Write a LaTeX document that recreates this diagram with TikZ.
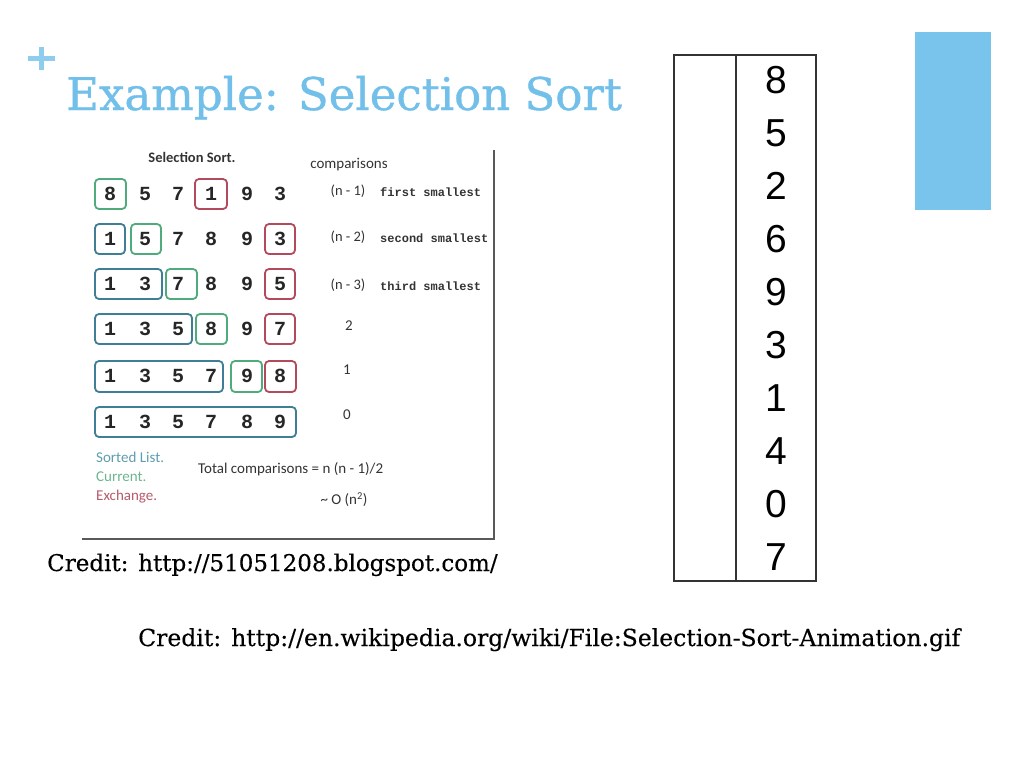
\documentclass[tikz,border=0pt]{standalone}
\usepackage{fontspec}
\newfontfamily\titlefont[FakeBold=0.8]{DejaVu Serif}
\newfontfamily\credfont[FakeBold=0.3]{DejaVu Serif}
\newfontfamily\calfont{Carlito}
\newfontfamily\monofont{Liberation Mono}
\newfontfamily\arialfont{Liberation Sans}
\definecolor{titleblue}{HTML}{72C0EA}
\definecolor{barblue}{HTML}{79C4EC}
\definecolor{plusblue}{HTML}{8ECDEE}
\definecolor{sortblue}{HTML}{3F7E95}
\definecolor{curgreen}{HTML}{4FAA7C}
\definecolor{exred}{HTML}{B24A5C}
\definecolor{legblue}{HTML}{5E9DB0}
\definecolor{leggreen}{HTML}{6DB58F}
\definecolor{legred}{HTML}{B65A6B}
\tikzset{
  bbox/.style={draw=sortblue, line width=1.8pt, rounded corners=4pt},
  gbox/.style={draw=curgreen, line width=1.8pt, rounded corners=4pt},
  rbox/.style={draw=exred, line width=1.8pt, rounded corners=4pt},
  dig/.style={font=\monofont\bfseries\fontsize{20}{21}\selectfont, text=black!85, inner sep=0pt},
  cmp/.style={font=\calfont\fontsize{15}{17}\selectfont, text=black!80, inner sep=0pt},
  mono/.style={font=\monofont\bfseries\fontsize{12}{13}\selectfont, text=black!80, inner sep=0pt, anchor=west},
  big/.style={font=\arialfont\fontsize{39}{40}\selectfont, inner sep=0pt},
  cred/.style={font=\credfont\fontsize{23}{25}\selectfont, anchor=base west, inner sep=0pt},
}
\begin{document}
\begin{tikzpicture}[x=1pt,y=-1pt]
\useasboundingbox (0,0) rectangle (1024,768);
% decorations
\fill[barblue] (915,32) rectangle (991,210);
\fill[plusblue] (28,56) rectangle (55,61);
\fill[plusblue] (39,47) rectangle (44,70);
\node[font=\titlefont\fontsize{45}{50}\selectfont, text=titleblue, anchor=base west, inner sep=0pt] (title) at (66,110) {Example: Selection Sort};
% inner figure frame
\draw[black!65, line width=2.4pt] (494,150) -- (494,539) -- (82,539);
\node[font=\calfont\bfseries\fontsize{14.5}{16}\selectfont, text=black!80, inner sep=0pt] (hd) at (192,157) {Selection Sort.};
\node[cmp] (cmpl) at (349,165) {comparisons};
% boxes
\draw[gbox] (95,179) rectangle (126,209);
\draw[rbox] (195,179) rectangle (227,209);
\draw[bbox] (95,224) rectangle (125,254);
\draw[gbox] (131,224) rectangle (161,254);
\draw[rbox] (265,224) rectangle (295,254);
\draw[bbox] (95,269) rectangle (162,299);
\draw[gbox] (166,269) rectangle (197,299);
\draw[rbox] (265,269) rectangle (295,299);
\draw[bbox] (95,314) rectangle (192,344);
\draw[gbox] (196,314) rectangle (227,344);
\draw[rbox] (265,314) rectangle (295,344);
\draw[bbox] (95,361) rectangle (223,392);
\draw[gbox] (231,361) rectangle (262,392);
\draw[rbox] (265,361) rectangle (296,392);
\draw[bbox] (95,407) rectangle (296,437);
% digits
\foreach \r/\y/\a/\b/\c/\d/\e/\f in {1/194/8/5/7/1/9/3, 2/239/1/5/7/8/9/3, 3/284/1/3/7/8/9/5, 4/329/1/3/5/8/9/7, 5/376/1/3/5/7/9/8, 6/422/1/3/5/7/8/9}{
  \node[dig] (d\r a) at (110,\y) {\a};
  \node[dig] (d\r b) at (145,\y) {\b};
  \node[dig] (d\r c) at (178,\y) {\c};
  \node[dig] (d\r d) at (211,\y) {\d};
  \node[dig] (d\r e) at (247,\y) {\e};
  \node[dig] (d\r f) at (280,\y) {\f};
}
% comparisons column
\node[cmp, font=\calfont\fontsize{14.5}{16}\selectfont] (c1) at (348,191) {(n - 1)};
\node[cmp, font=\calfont\fontsize{14.5}{16}\selectfont] (c2) at (348,237) {(n - 2)};
\node[cmp, font=\calfont\fontsize{14.5}{16}\selectfont] (c3) at (348,285) {(n - 3)};
\node[mono] (m1) at (380,192) {first smallest};
\node[mono] (m2) at (380,238) {second smallest};
\node[mono] (m3) at (380,286) {third smallest};
\node[cmp] (c4) at (349,326) {2};
\node[cmp] (c5) at (347,370) {1};
\node[cmp] (c6) at (347,415) {0};
% legend
\node[cmp, text=legblue, anchor=west] (l1) at (96,457) {Sorted List.};
\node[cmp, text=leggreen, anchor=west] (l2) at (96,477) {Current.};
\node[cmp, text=legred, anchor=west] (l3) at (96,497) {Exchange.};
\node[cmp, anchor=west] (tot) at (198,469) {Total comparisons = n (n - 1)/2};
\node[cmp] (ord) at (344,500) {\textasciitilde{} O (n\textsuperscript{2})};
% credits
\node[cred] (cr1) at (47,571) {Credit: http://51051208.blogspot.com/};
\node[cred, font=\credfont\fontsize{23.5}{25}\selectfont] (cr2) at (138,646) {Credit: http://en.wikipedia.org/wiki/File:Selection-Sort-Animation.gif};
% right table
\draw[black!80, line width=1.1pt] (674,55) rectangle (816,581);
\draw[black!80, line width=1.1pt] (736,55) -- (736,581);
\foreach \i/\v in {0/8,1/5,2/2,3/6,4/9,5/3,6/1,7/4,8/0,9/7}{
  \node[big] (t\i) at (776,{80+53*\i}) {\v};
}
\end{tikzpicture}
\end{document}
